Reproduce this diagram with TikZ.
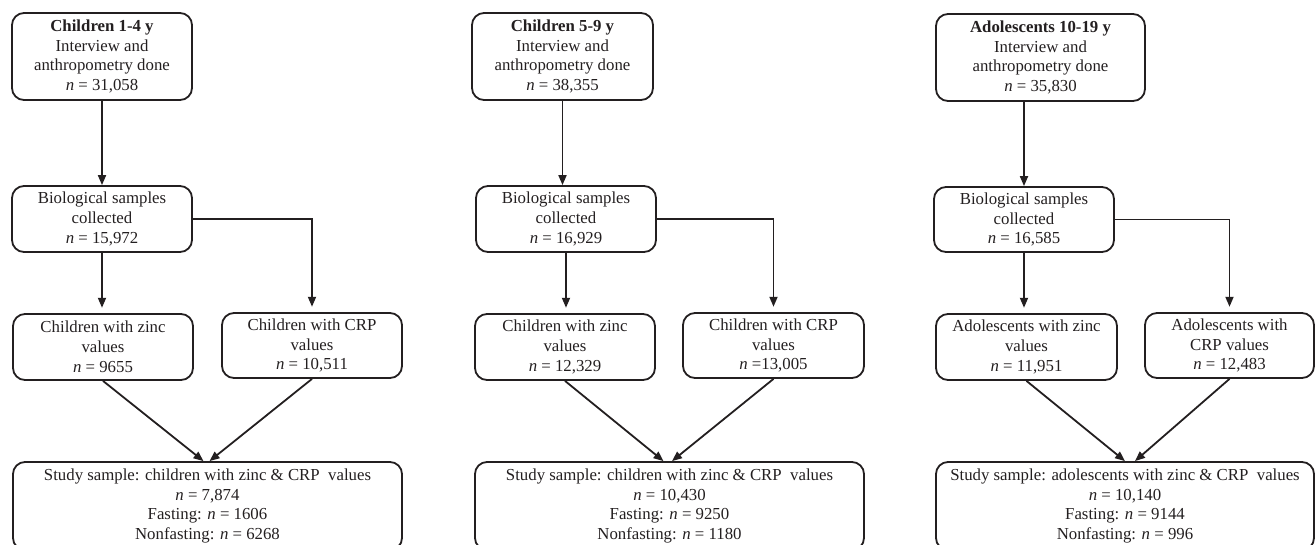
\documentclass[tikz,border=0pt]{standalone}
\usepackage{fontspec}
\setmainfont{Liberation Serif}
\usetikzlibrary{arrows.meta,calc}
\definecolor{ink}{RGB}{35,31,32}
\tikzset{
  box/.style={draw=ink, text=ink, line width=1.35pt, rounded corners=9pt, align=center,
    inner sep=2pt, font=\fontsize{12.6}{14.9}\selectfont},
  arr/.style={draw=ink, line width=1.35pt, -{Triangle[length=7.5pt,width=6pt]}},
}
\def\px{0.75pt}
\newcommand{\nn}{\textit{n}}
\begin{document}
\begin{tikzpicture}[x=0.75pt,y=-0.75pt]
\useasboundingbox (0,0) rectangle (1315,544);
% ---------- column 1
\node[box, minimum width=180*\px, minimum height=87*\px] (t1) at (102,56.5)
  {\textbf{Children 1-4 y}\\Interview and\\anthropometry done\\\nn{} = 31,058};
\node[box, minimum width=180*\px, minimum height=66*\px] (b1) at (102,219)
  {Biological samples\\collected\\\nn{} = 15,972};
\node[box, minimum width=180*\px, minimum height=66*\px] (z1) at (103,347)
  {Children with zinc\\values\\\nn{} = 9655};
\node[box, minimum width=180*\px, minimum height=65*\px] (c1) at (312,345.5)
  {Children with CRP\\values\\\nn{} = 10,511};
\node[box, minimum width=389*\px, minimum height=88*\px] (s1) at (207.5,506)
  {Study sample: children with zinc \& CRP~ values\\\nn{} = 7,874\\Fasting: \nn{} = 1606\\Nonfasting: \nn{} = 6268};
\coordinate (m1l) at ($(s1.north)+(-4,0)$);
\coordinate (m1r) at ($(s1.north)+(2,0)$);
\draw[arr] (t1.south) -- (t1.south |- b1.north);
\draw[arr, shorten >=4pt] (b1.south) -- (b1.south |- z1.north);
\draw[arr, shorten >=4pt] (b1.east) -| (c1.north);
\draw[arr] (z1.south) -- (m1l);
\draw[arr] (c1.south) -- (m1r);
% ---------- column 2
\node[box, minimum width=181*\px, minimum height=87*\px] (t2) at (562.5,56.5)
  {\textbf{Children 5-9 y}\\Interview and\\anthropometry done\\\nn{} = 38,355};
\node[box, minimum width=180*\px, minimum height=66*\px] (b2) at (566,219)
  {Biological samples\\collected\\\nn{} = 16,929};
\node[box, minimum width=180*\px, minimum height=66*\px] (z2) at (565,347)
  {Children with zinc\\values\\\nn{} = 12,329};
\node[box, minimum width=181*\px, minimum height=65*\px] (c2) at (773.5,345.5)
  {Children with CRP\\values\\\nn{} =13,005};
\node[box, minimum width=389*\px, minimum height=88*\px] (s2) at (669.5,506)
  {Study sample: children with zinc \& CRP~ values\\\nn{} = 10,430\\Fasting: \nn{} = 9250\\Nonfasting: \nn{} = 1180};
\coordinate (m2l) at ($(s2.north)+(-6,0)$);
\coordinate (m2r) at ($(s2.north)+(2.5,0)$);
\draw[arr] (t2.south) -- (t2.south |- b2.north);
\draw[arr, shorten >=4pt] (b2.south) -- (b2.south |- z2.north);
\draw[arr, shorten >=4pt] (b2.east) -| (c2.north);
\draw[arr] (z2.south) -- (m2l);
\draw[arr] (c2.south) -- (m2r);
% ---------- column 3
\node[box, minimum width=209*\px, minimum height=87*\px] (t3) at (1040.5,57.5)
  {\textbf{Adolescents 10-19 y}\\Interview and\\anthropometry done\\\nn{} = 35,830};
\node[box, minimum width=180*\px, minimum height=65*\px] (b3) at (1024,219.5)
  {Biological samples\\collected\\\nn{} = 16,585};
\node[box, minimum width=181*\px, minimum height=66*\px] (z3) at (1026.5,347)
  {Adolescents with zinc\\values\\\nn{} = 11,951};
\node[box, minimum width=169*\px, minimum height=65*\px] (c3) at (1229.5,345.5)
  {Adolescents with\\CRP values\\\nn{} = 12,483};
\node[box, minimum width=378*\px, minimum height=88*\px] (s3) at (1125,506)
  {Study sample: adolescents with zinc \& CRP~ values\\\nn{} = 10,140\\Fasting: \nn{} = 9144\\Nonfasting: \nn{} = 996};
\coordinate (m3l) at ($(s3.north)+(0,0)$);
\coordinate (m3r) at ($(s3.north)+(10,0)$);
\draw[arr] (b3.north |- t3.south) -- (b3.north);
\draw[arr, shorten >=4pt] (b3.south) -- (b3.south |- z3.north);
\draw[arr, shorten >=4pt] (b3.east) -| (c3.north);
\draw[arr] (z3.south) -- (m3l);
\draw[arr] (c3.south) -- (m3r);
\end{tikzpicture}
\end{document}
